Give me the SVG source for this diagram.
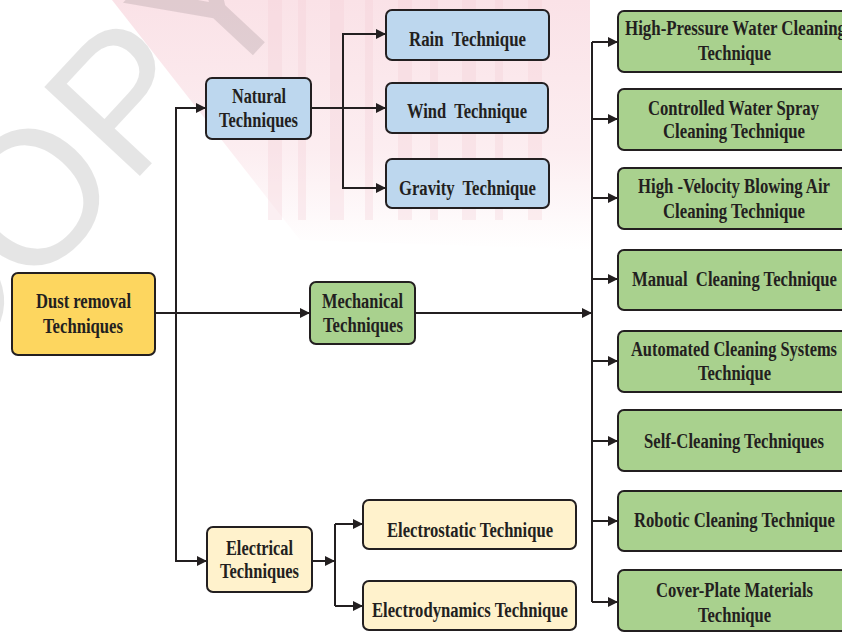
<svg xmlns="http://www.w3.org/2000/svg" width="842" height="633" viewBox="0 0 842 633">
<defs>
<marker id="arr" markerUnits="userSpaceOnUse" markerWidth="10" markerHeight="10" refX="10" refY="5" orient="auto">
<path d="M0,0 L10,5 L0,10 z" fill="#231f20"/>
</marker>
<linearGradient id="pinkg" x1="0" y1="0" x2="0" y2="1">
<stop offset="0" stop-color="#fae2e7"/>
<stop offset="0.6" stop-color="#fae2e7" stop-opacity="0.6"/>
<stop offset="1" stop-color="#fae2e7" stop-opacity="0"/>
</linearGradient>
<style>
.box{stroke:#231f20;stroke-width:2}
.blue{fill:#bdd7ee}
.green{fill:#a9d18e}
.gold{fill:#fdd65f}
.cream{fill:#fff2cc}
.t{font-family:"Liberation Serif","Times New Roman",serif;font-weight:bold;font-size:20px;fill:#231f20;white-space:pre}
.ln{fill:none;stroke:#231f20;stroke-width:2}
.wm{font-family:"Liberation Sans",Arial,sans-serif;font-size:190px;fill:#000;fill-opacity:0.1}
</style>
</defs>
<g id="watermark">
<polygon points="112,0 590,0 590,250 300,240" fill="url(#pinkg)"/>
<g fill="#f4cdd5" opacity="0.3">
<rect x="268" y="0" width="14" height="220"/>
<rect x="298" y="0" width="8" height="220"/>
<rect x="330" y="0" width="14" height="220"/>
<rect x="365" y="0" width="8" height="220"/>
<rect x="398" y="0" width="14" height="220"/>
<rect x="430" y="0" width="8" height="220"/>
<rect x="462" y="0" width="14" height="220"/>
<rect x="495" y="0" width="8" height="220"/>
<rect x="528" y="0" width="14" height="220"/>
</g>
<text class="wm" transform="translate(-65,396) rotate(-47)">COPY</text>
</g>
<g id="connectors">
<path class="ln" d="M155,313 H310" marker-end="url(#arr)"/>
<path class="ln" d="M176,313 V108 H206" marker-end="url(#arr)"/>
<path class="ln" d="M176,313 V561 H207" marker-end="url(#arr)"/>
<path class="ln" d="M311,108 H386" marker-end="url(#arr)"/>
<path class="ln" d="M343,108 V34 H386" marker-end="url(#arr)"/>
<path class="ln" d="M343,108 V188 H386" marker-end="url(#arr)"/>
<path class="ln" d="M415,313 H592" marker-end="url(#arr)"/>
<path class="ln" d="M592,42 V602"/>
<path class="ln" d="M592,42 H618" marker-end="url(#arr)"/>
<path class="ln" d="M592,119 H618" marker-end="url(#arr)"/>
<path class="ln" d="M592,198 H618" marker-end="url(#arr)"/>
<path class="ln" d="M592,279 H618" marker-end="url(#arr)"/>
<path class="ln" d="M592,361 H618" marker-end="url(#arr)"/>
<path class="ln" d="M592,441 H618" marker-end="url(#arr)"/>
<path class="ln" d="M592,521 H618" marker-end="url(#arr)"/>
<path class="ln" d="M592,602 H618" marker-end="url(#arr)"/>
<path class="ln" d="M312,561 H335" marker-end="url(#arr)"/>
<path class="ln" d="M335,524 V606"/>
<path class="ln" d="M335,524 H363" marker-end="url(#arr)"/>
<path class="ln" d="M335,606 H363" marker-end="url(#arr)"/>
</g>
<g id="dust">
<rect class="box gold" x="12" y="273" width="143" height="82" rx="6"/>
<text class="t" x="36" y="308" textLength="95" lengthAdjust="spacingAndGlyphs">Dust removal</text>
<text class="t" x="43" y="333" textLength="80" lengthAdjust="spacingAndGlyphs">Techniques</text>
</g>
<g id="natural">
<rect class="box blue" x="206" y="78" width="105" height="61" rx="6"/>
<text class="t" x="232" y="103" textLength="54" lengthAdjust="spacingAndGlyphs">Natural</text>
<text class="t" x="219" y="127" textLength="79" lengthAdjust="spacingAndGlyphs">Techniques</text>
</g>
<g id="mechanical">
<rect class="box green" x="310" y="282" width="105" height="62" rx="6"/>
<text class="t" x="322" y="308" textLength="81" lengthAdjust="spacingAndGlyphs">Mechanical</text>
<text class="t" x="323" y="332" textLength="80" lengthAdjust="spacingAndGlyphs">Techniques</text>
</g>
<g id="electrical">
<rect class="box cream" x="207" y="527" width="105" height="65" rx="6"/>
<text class="t" x="226" y="555" textLength="67" lengthAdjust="spacingAndGlyphs">Electrical</text>
<text class="t" x="220" y="578" textLength="79" lengthAdjust="spacingAndGlyphs">Techniques</text>
</g>
<g id="rain">
<rect class="box blue" x="386" y="10" width="163" height="50" rx="6"/>
<text class="t" x="409" y="46" textLength="117" lengthAdjust="spacingAndGlyphs">Rain  Technique</text>
</g>
<g id="wind">
<rect class="box blue" x="386" y="83" width="162" height="50" rx="6"/>
<text class="t" x="407" y="118" textLength="120" lengthAdjust="spacingAndGlyphs">Wind  Technique</text>
</g>
<g id="gravity">
<rect class="box blue" x="386" y="159" width="163" height="49" rx="6"/>
<text class="t" x="399" y="195" textLength="137" lengthAdjust="spacingAndGlyphs">Gravity  Technique</text>
</g>
<g id="electrostatic">
<rect class="box cream" x="363" y="500" width="213" height="49" rx="6"/>
<text class="t" x="387" y="537" textLength="166" lengthAdjust="spacingAndGlyphs">Electrostatic Technique</text>
</g>
<g id="electrodynamics">
<rect class="box cream" x="363" y="581" width="213" height="49" rx="6"/>
<text class="t" x="372" y="617" textLength="196" lengthAdjust="spacingAndGlyphs">Electrodynamics Technique</text>
</g>
<g id="highpressure">
<rect class="box green" x="618" y="11" width="240" height="61" rx="6"/>
<text class="t" x="625" y="35" textLength="221" lengthAdjust="spacingAndGlyphs">High-Pressure Water Cleaning</text>
<text class="t" x="698" y="60" textLength="73" lengthAdjust="spacingAndGlyphs">Technique</text>
</g>
<g id="controlled">
<rect class="box green" x="618" y="89" width="240" height="61" rx="6"/>
<text class="t" x="648" y="115" textLength="171" lengthAdjust="spacingAndGlyphs">Controlled Water Spray</text>
<text class="t" x="663" y="138" textLength="142" lengthAdjust="spacingAndGlyphs">Cleaning Technique</text>
</g>
<g id="highvelocity">
<rect class="box green" x="618" y="168" width="240" height="61" rx="6"/>
<text class="t" x="638" y="193" textLength="192" lengthAdjust="spacingAndGlyphs">High -Velocity Blowing Air</text>
<text class="t" x="663" y="218" textLength="142" lengthAdjust="spacingAndGlyphs">Cleaning Technique</text>
</g>
<g id="manual">
<rect class="box green" x="618" y="250" width="240" height="60" rx="6"/>
<text class="t" x="632" y="286" textLength="205" lengthAdjust="spacingAndGlyphs">Manual  Cleaning Technique</text>
</g>
<g id="automated">
<rect class="box green" x="618" y="331" width="240" height="61" rx="6"/>
<text class="t" x="631" y="356" textLength="206" lengthAdjust="spacingAndGlyphs">Automated Cleaning Systems</text>
<text class="t" x="698" y="380" textLength="73" lengthAdjust="spacingAndGlyphs">Technique</text>
</g>
<g id="selfcleaning">
<rect class="box green" x="618" y="410" width="240" height="61" rx="6"/>
<text class="t" x="644" y="448" textLength="180" lengthAdjust="spacingAndGlyphs">Self-Cleaning Techniques</text>
</g>
<g id="robotic">
<rect class="box green" x="618" y="491" width="240" height="60" rx="6"/>
<text class="t" x="634" y="527" textLength="201" lengthAdjust="spacingAndGlyphs">Robotic Cleaning Technique</text>
</g>
<g id="coverplate">
<rect class="box green" x="618" y="570" width="240" height="61" rx="6"/>
<text class="t" x="656" y="597" textLength="157" lengthAdjust="spacingAndGlyphs">Cover-Plate Materials</text>
<text class="t" x="698" y="622" textLength="73" lengthAdjust="spacingAndGlyphs">Technique</text>
</g>
</svg>
